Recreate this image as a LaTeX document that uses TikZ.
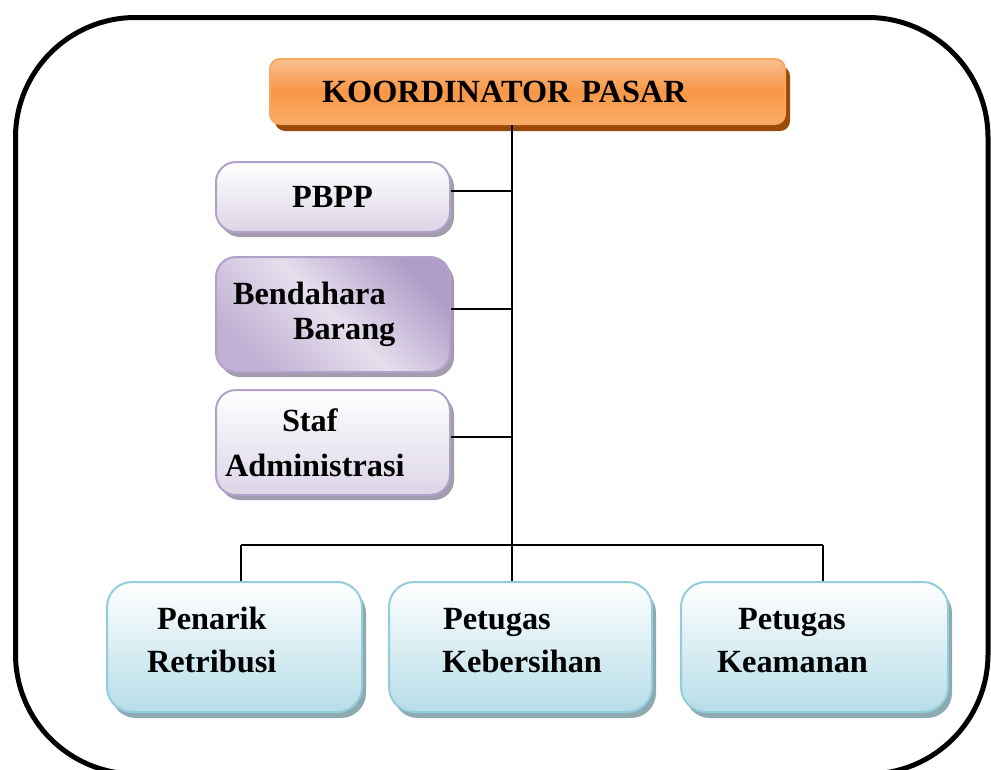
\documentclass[tikz,border=0pt]{standalone}
\usepackage{fontspec}
\setmainfont{Liberation Serif}
\usepackage{tikz}
\usetikzlibrary{shadows,calc}

\definecolor{orgTop}{HTML}{FAC08F}
\definecolor{orgMid}{HTML}{F79646}
\definecolor{orgBot}{HTML}{F9AE6B}
\definecolor{orgLine}{HTML}{F9A862}
\definecolor{orgShd}{HTML}{9A4A0A}
\definecolor{purLine}{HTML}{B3A2C7}
\definecolor{purBot}{HTML}{DCD5E7}
\definecolor{purDark}{HTML}{B09CC8}
\definecolor{purLight}{HTML}{E5DFED}
\definecolor{purShd}{HTML}{A39BAE}
\definecolor{bluLine}{HTML}{92CDDC}
\definecolor{bluBot}{HTML}{B7DDE8}
\definecolor{bluShd}{HTML}{8FA9B1}

\begin{document}
\begin{tikzpicture}[x=0.25cm,y=0.25cm]
\tikzstyle{every node}+=[inner sep=0pt]
\tikzstyle{box}=[rectangle, line width=0.05cm, align=left, font=\fontsize{23}{30.7}\selectfont\bfseries]
\tikzstyle{orgbox}=[box, draw=orgLine, top color=orgTop, bottom color=orgBot, middle color=orgMid, rounded corners=0.25cm, general shadow={fill=orgShd, shadow xshift=0.125cm, shadow yshift=-0.175cm}]
\tikzstyle{purbox}=[box, draw=purLine, top color=white, bottom color=purBot, rounded corners=0.5cm, text width=5.85cm, general shadow={fill=purShd, shadow xshift=0.1cm, shadow yshift=-0.125cm}]
\tikzstyle{blubox}=[box, draw=bluLine, top color=white, bottom color=bluBot, rounded corners=0.625cm, minimum height=3.25cm, general shadow={fill=bluShd, shadow xshift=0.1cm, shadow yshift=-0.15cm}]
\tikzstyle{link}=[black, line width=0.05cm]
\path[use as bounding box] (0,0) rectangle (99.1,-76.9);
\clip (0,0) rectangle (99.1,-76.9);
\draw [black, line width=0.125cm, rounded corners=3cm] (1.55,-1.75) rectangle (98.8,-77.4);
\node [orgbox, text width=12.875cm, minimum height=1.625cm] (koord) at (52.75,-9.15) {\hspace*{1.3cm}KOORDINATOR PASAR};
\node [purbox, minimum height=1.75cm] (pbpp) at (33.3,-19.7) {\hspace*{1.9cm}PBPP};
\node [purbox, minimum height=2.875cm, top color=purDark, bottom color=purDark!70!purLight, middle color=purLight, shading angle=-45] (bend) at (33.3,-31.45) {\hspace*{0.425cm}Bendahara\\[-0.2cm]\hspace*{1.925cm}Barang};
\node [purbox, minimum height=2.625cm] (staf) at (33.3,-44.25) {\hspace*{1.65cm}Staf\\[0.05cm]\hspace*{0.225cm}Administrasi};
\node [blubox, text width=6.375cm] (penarik) at (23.45,-64.7) {\hspace*{1.25cm}Penarik\\\hspace*{1cm}Retribusi\rule[-0.35cm]{0pt}{0pt}};
\node [blubox, text width=6.575cm] (bersih) at (52.05,-64.7) {\hspace*{1.35cm}Petugas\\\hspace*{1.325cm}Kebersihan\rule[-0.35cm]{0pt}{0pt}};
\node [blubox, text width=6.675cm] (aman) at (81.45,-64.7) {\hspace*{1.425cm}Petugas\\\hspace*{0.9cm}Keamanan\rule[-0.35cm]{0pt}{0pt}};
\coordinate (hub) at (51.2,-54.5);
\coordinate (barL) at (24.1,-54.5);
\coordinate (barR) at (82.3,-54.5);
\draw [link] (hub |- koord.south) -- (hub |- bersih.north);
\draw [link] ([yshift=1.5mm]pbpp.east) -| (hub);
\draw [link] ([yshift=1.5mm]bend.east) -| (hub);
\draw [link] ([yshift=1.5mm]staf.east) -| (hub);
\draw [link] (barL) -- (barR);
\draw [link] (barL) -- (barL |- penarik.north);
\draw [link] (barR) -- (barR |- aman.north);
\end{tikzpicture}
\end{document}
